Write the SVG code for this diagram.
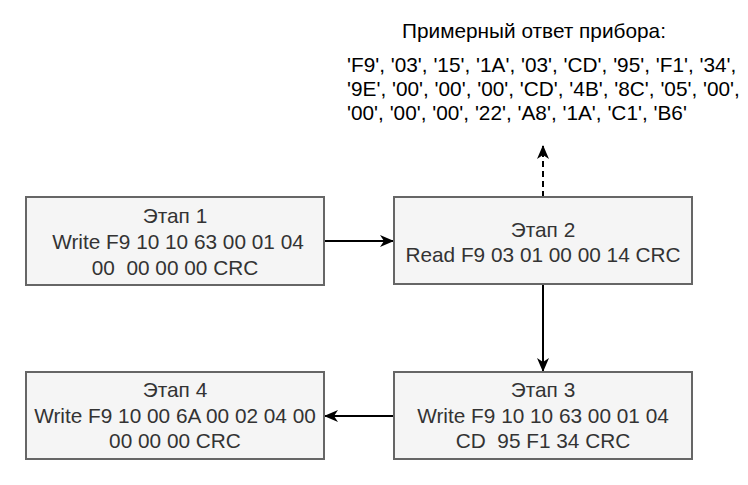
<svg xmlns="http://www.w3.org/2000/svg" width="748" height="485" viewBox="0 0 748 485">
<defs>
<marker id="arr" viewBox="0 0 14 12" refX="13" refY="6" markerWidth="14" markerHeight="12" markerUnits="userSpaceOnUse" orient="auto">
<path d="M0,0 L14,6 L0,12 L4,6 Z" fill="#000"/>
</marker>
<style>
.box{fill:#f5f5f5;stroke:#666666;stroke-width:2}
.t{font-family:"Liberation Sans",Arial,sans-serif;font-size:20.8px;fill:#333333;text-anchor:middle;white-space:pre}
.h{font-family:"Liberation Sans",Arial,sans-serif;font-size:20.8px;fill:#000}
.c{stroke:#000;stroke-width:2;fill:none}
</style>
</defs>
<rect width="748" height="485" fill="#fff"/>
<g id="connectors">
<line class="c" x1="324" y1="241" x2="393" y2="241" marker-end="url(#arr)"/>
<line class="c" x1="543" y1="197" x2="543" y2="146" stroke-dasharray="6,4" marker-end="url(#arr)"/>
<line class="c" x1="543" y1="284" x2="543" y2="371" marker-end="url(#arr)"/>
<line class="c" x1="394" y1="416" x2="325" y2="416" marker-end="url(#arr)"/>
</g>
<g id="note">
<text class="h" x="534" y="38" text-anchor="middle">Примерный ответ прибора:</text>
<text class="h" x="347" y="72">'F9', '03', '15', '1A', '03', 'CD', '95', 'F1', '34',</text>
<text class="h" x="347" y="96">'9E', '00', '00', '00', 'CD', '4B', '8C', '05', '00',</text>
<text class="h" x="347" y="120">'00', '00', '00', '22', 'A8', '1A', 'C1', 'B6'</text>
</g>
<g id="stage1">
<rect class="box" x="26" y="197" width="298" height="88"/>
<text class="t" x="175" y="223">Этап 1</text>
<text class="t" x="178" y="249">Write F9 10 10 63 00 01 04</text>
<text class="t" x="175" y="275" xml:space="preserve">00  00 00 00 CRC</text>
</g>
<g id="stage2">
<rect class="box" x="394" y="197" width="298" height="87"/>
<text class="t" x="543" y="237">Этап 2</text>
<text class="t" x="543" y="262">Read F9 03 01 00 00 14 CRC</text>
</g>
<g id="stage3">
<rect class="box" x="394" y="372" width="298" height="87"/>
<text class="t" x="543" y="397">Этап 3</text>
<text class="t" x="543" y="423">Write F9 10 10 63 00 01 04</text>
<text class="t" x="543" y="448" xml:space="preserve">CD  95 F1 34 CRC</text>
</g>
<g id="stage4">
<rect class="box" x="26" y="372" width="298" height="87"/>
<text class="t" x="175" y="397">Этап 4</text>
<text class="t" x="175" y="423">Write F9 10 00 6A 00 02 04 00</text>
<text class="t" x="175" y="448">00 00 00 CRC</text>
</g>
</svg>
